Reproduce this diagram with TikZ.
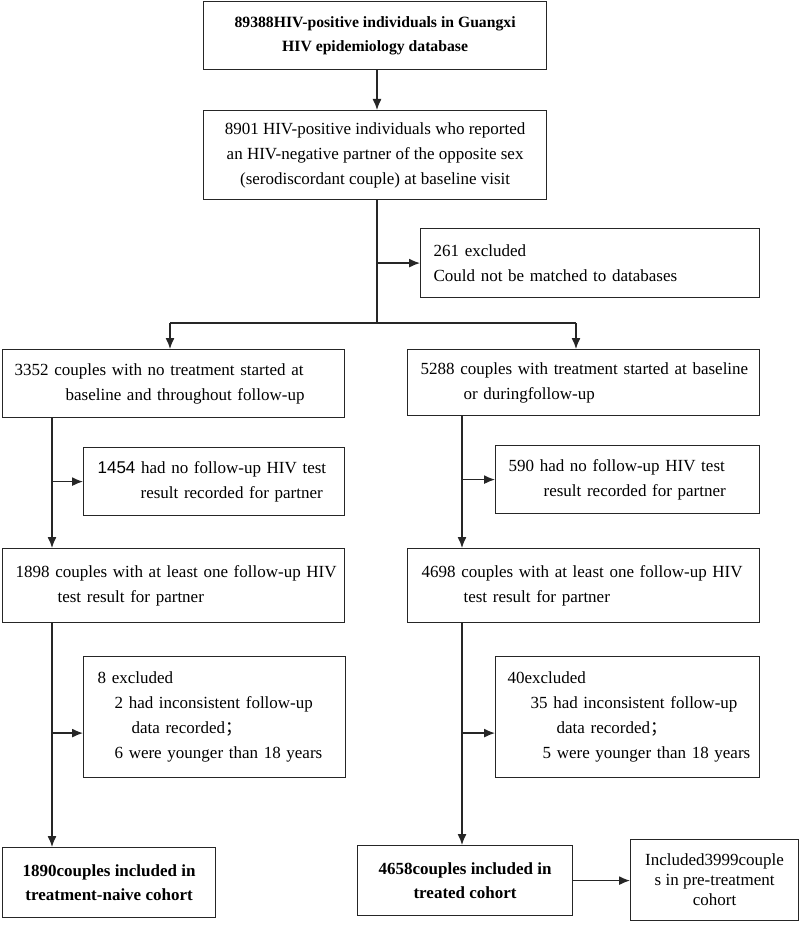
\documentclass[tikz,border=0pt]{standalone}
\usepackage{fontspec}
\setmainfont{Liberation Serif}
\newfontfamily\cjk{Noto Sans CJK SC}
\newfontfamily\digitfont{Liberation Sans}
\usetikzlibrary{arrows.meta,positioning,calc}
\tikzset{
  box/.style={draw=black!85, line width=1.2pt, anchor=north west, inner ysep=0pt, font=\fontsize{17}{25}\selectfont},
  lbox/.style={box, align=left, inner xsep=0pt},
  cbox/.style={box, align=center},
  bbox/.style={cbox, font=\bfseries\fontsize{17}{24}\selectfont},
  ln/.style={draw=black!85, line width=1.3pt},
  arr/.style={ln, -{Latex[length=11pt,width=9pt]}},
}
\begin{document}
\begin{tikzpicture}[x=1pt,y=-1pt]
  \useasboundingbox (0,0) rectangle (800,925);
  % boxes
  \node[bbox, font=\bfseries\fontsize{15.7}{24}\selectfont, minimum width=343pt, minimum height=68pt] at (203,1) (all) {89388HIV-positive individuals in Guangxi\\HIV epidemiology database};
  \node[cbox, minimum width=343pt, minimum height=89pt] at (203,110) (sero) {8901 HIV-positive individuals who reported\\an HIV-negative partner of the opposite sex\\(serodiscordant couple) at baseline visit};
  \node[lbox, text width=339pt, minimum height=69pt] at (420,228) (excl) {\hspace*{13pt}261 excluded\\\hspace*{13pt}Could not be matched to databases};
  \node[lbox, text width=342pt, minimum height=68pt] at (2,349) (notreat) {\hspace*{12pt}3352 couples with no treatment started at\\\hspace*{63pt}baseline and throughout follow-up};
  \node[lbox, text width=352pt, minimum height=66pt] at (407,349) (treat) {\hspace*{13pt}5288 couples with treatment started at baseline\\\hspace*{56pt}or duringfollow-up};
  \node[lbox, text width=261pt, minimum height=68pt] at (83,447) (nofu1) {\hspace*{14pt}{\digitfont 1454} had no follow-up HIV test\\\hspace*{57pt}result recorded for partner};
  \node[lbox, text width=264pt, minimum height=68pt] at (495,445) (nofu2) {\hspace*{13pt}590 had no follow-up HIV test\\\hspace*{48pt}result recorded for partner};
  \node[lbox, text width=342pt, minimum height=74pt] at (2,548) (fu1) {\hspace*{13pt}1898 couples with at least one follow-up HIV\\\hspace*{55pt}test result for partner};
  \node[lbox, text width=352pt, minimum height=74pt] at (407,548) (fu2) {\hspace*{14pt}4698 couples with at least one follow-up HIV\\\hspace*{56pt}test result for partner};
  \node[lbox, text width=262pt, minimum height=121pt] at (83,656) (excl8) {\hspace*{14pt}8 excluded\\\hspace*{31pt}2 had inconsistent follow-up\\\hspace*{48pt}data recorded{\cjk ；}\\\hspace*{31pt}6 were younger than 18 years};
  \node[lbox, text width=264pt, minimum height=121pt] at (495,656) (excl40) {\hspace*{12pt}40excluded\\\hspace*{35pt}35 had inconsistent follow-up\\\hspace*{61pt}data recorded{\cjk ；}\\\hspace*{47pt}5 were younger than 18 years};
  \node[bbox, minimum width=213pt, minimum height=70pt] at (2,847) (naive) {1890couples included in\\treatment-naive cohort};
  \node[bbox, minimum width=215pt, minimum height=70pt] at (357,845) (treated) {4658couples included in\\treated cohort};
  \node[cbox, font=\fontsize{17}{20}\selectfont, minimum width=168pt, minimum height=81pt] at (630,839) (pre) {Included3999couple\\s in pre-treatment\\cohort};
  % connectors
  \coordinate (m) at (377,323);
  \coordinate (sl) at (170,323);
  \coordinate (sr) at (576,323);
  \coordinate (cl) at (52,0);
  \coordinate (cr) at (462,0);
  \coordinate (e8) at ([yshift=-16pt]excl8.west);
  \coordinate (e40) at ([yshift=-16pt]excl40.west);
  \draw[arr] (all.south -| m) -- (sero.north -| m);
  \draw[ln] (sero.south -| m) -- (m);
  \draw[arr] (excl.west -| m) -- (excl.west);
  \draw[ln] (sl) -- (sr);
  \draw[arr] (sl) -- (sl |- notreat.north);
  \draw[arr] (sr) -- (sr |- treat.north);
  \draw[arr] (notreat.south -| cl) -- (fu1.north -| cl);
  \draw[arr] (nofu1.west -| cl) -- (nofu1.west);
  \draw[arr] (treat.south -| cr) -- (fu2.north -| cr);
  \draw[arr] (nofu2.west -| cr) -- (nofu2.west);
  \draw[arr] (fu1.south -| cl) -- (naive.north -| cl);
  \draw[arr] (e8 -| cl) -- (e8);
  \draw[arr] (fu2.south -| cr) -- (treated.north -| cr);
  \draw[arr] (e40 -| cr) -- (e40);
  \draw[arr] (treated.east) -- (treated.east -| pre.west);
\end{tikzpicture}
\end{document}
